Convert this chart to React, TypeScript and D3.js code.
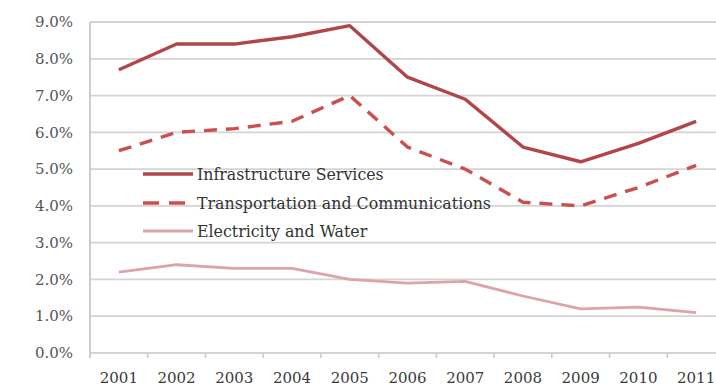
import React from "react";
import * as d3 from "d3";

const years = ["2001","2002","2003","2004","2005","2006","2007","2008","2009","2010","2011"];
const infrastructure = [7.7, 8.4, 8.4, 8.6, 8.9, 7.5, 6.9, 5.6, 5.2, 5.7, 6.3];
const transport = [5.5, 6.0, 6.1, 6.3, 7.0, 5.6, 5.0, 4.1, 4.0, 4.5, 5.1];
const electricity = [2.2, 2.4, 2.3, 2.3, 2.0, 1.9, 1.95, 1.55, 1.2, 1.25, 1.1];
const yTicks = [0, 1, 2, 3, 4, 5, 6, 7, 8, 9];
const seriesNames = ["Infrastructure Services", "Transportation and Communications", "Electricity and Water"];

const W = 716, H = 386;
const left = 90, right = 725, top = 22, bottom = 353;
const font = "'DejaVu Serif', serif";

export default function App() {
  const x = d3.scaleBand<string>().domain(years).range([left, right]);
  const y = d3.scaleLinear().domain([0, 9]).range([bottom, top]);
  const line = d3.line<number>()
    .x((_, i) => (x(years[i]) as number) + x.bandwidth() / 2)
    .y((d) => y(d));
  const series = [
    { name: seriesNames[0], data: infrastructure, color: "#b24548", width: 3.4, dash: "" },
    { name: seriesNames[1], data: transport, color: "#c9504f", width: 3.4, dash: "13,9" },
    { name: seriesNames[2], data: electricity, color: "#dea3a8", width: 2.8, dash: "" },
  ];
  const legendY = [174, 203, 231];
  return (
    <svg width={W} height={H} style={{ position: "absolute", left: 0, top: 0, background: "#fff" }}>
      {yTicks.map((t) => (
        <g key={t}>
          <line x1={left} x2={W} y1={y(t)} y2={y(t)} stroke="#d4d4d4" strokeWidth={1.8} />
          <text x={73} y={y(t)} dy="0.35em" textAnchor="end" fontFamily={font} fontSize={15} fill="#555">
            {t.toFixed(1)}%
          </text>
        </g>
      ))}
      <line x1={left} x2={left} y1={top} y2={bottom + 5} stroke="#c8c8c8" strokeWidth={1.8} />
      {years.map((yr) => (
        <line key={"tk" + yr} x1={(x(yr) as number) + x.bandwidth()} x2={(x(yr) as number) + x.bandwidth()} y1={bottom} y2={bottom + 5} stroke="#c8c8c8" strokeWidth={1.5} />
      ))}
      {years.map((yr) => (
        <text key={yr} x={(x(yr) as number) + x.bandwidth() / 2} y={378} dy="0.35em" textAnchor="middle" fontFamily={font} fontSize={15} fill="#3a3a3a">
          {yr}
        </text>
      ))}
      {series.map((s) => (
        <path key={s.name} d={line(s.data) || ""} fill="none" stroke={s.color} strokeWidth={s.width} strokeDasharray={s.dash} strokeLinejoin="round" />
      ))}
      {series.map((s, i) => (
        <g key={"lg" + s.name}>
          <line x1={143} x2={193} y1={legendY[i]} y2={legendY[i]} stroke={s.color} strokeWidth={s.width} strokeDasharray={s.dash ? "16,10" : ""} />
          <text x={197} y={legendY[i]} dy="0.35em" fontFamily={font} fontSize={15.8} fill="#333">
            {s.name}
          </text>
        </g>
      ))}
    </svg>
  );
}
